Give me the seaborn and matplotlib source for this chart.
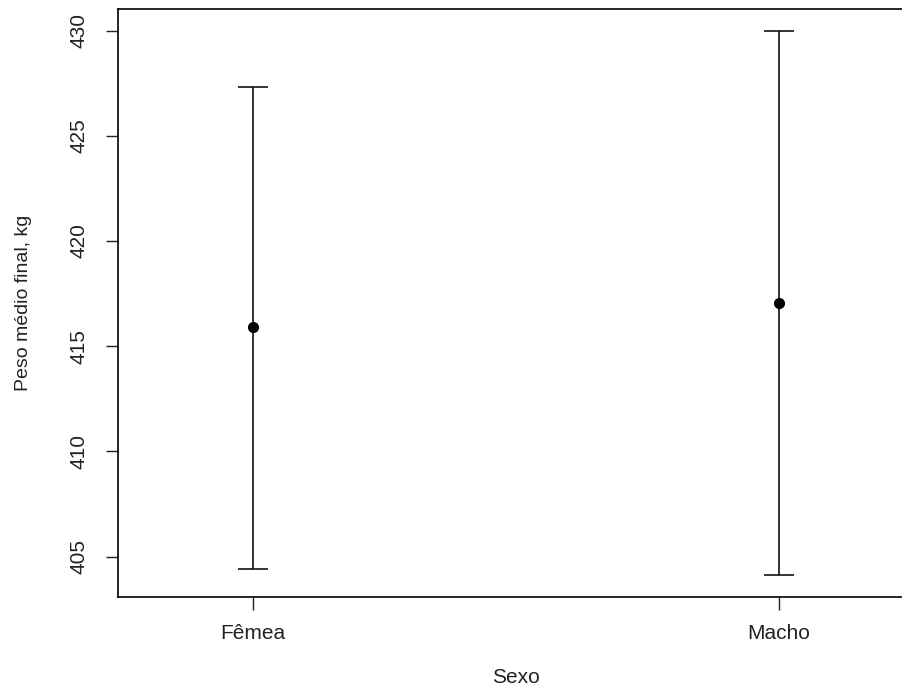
import matplotlib
matplotlib.use("Agg")
import matplotlib.pyplot as plt
import seaborn as sns
import pandas as pd

# mean final weight by sex, with interval limits (kg)
sexo = ["Fêmea", "Macho"]
media = [415.9, 417.06]
limite_inf = [404.42, 404.13]
limite_sup = [427.34, 430.0]

sns.set_theme(style="ticks")
plt.rcParams['font.family'] = ['Liberation Sans', 'DejaVu Sans']
plt.rcParams['font.size'] = 14

df = pd.DataFrame({"Sexo": sexo, "media": media,
                   "inf": limite_inf, "sup": limite_sup})

fig = plt.figure(figsize=(9.02, 6.89), dpi=100)
ax = fig.add_axes([0.1308, 0.134, 0.8825, 0.853])

sns.pointplot(data=df, x="Sexo", y="media", errorbar=None, linestyle="none",
              color="black", markers="o", markersize=6, ax=ax, zorder=3)

pos = range(len(sexo))
ax.errorbar(list(pos), df["media"],
            yerr=[df["media"] - df["inf"], df["sup"] - df["media"]],
            fmt="none", ecolor="#111111", elinewidth=1.2, capsize=10.5,
            capthick=1.2, zorder=2)

ax.set_xlim(-0.257, 1.257)
ax.set_ylim(403.1, 431.03)
ax.set_yticks([405, 410, 415, 420, 425, 430])

for s in ax.spines.values():
    s.set_visible(True)
    s.set_color("black")
    s.set_linewidth(1.2)

ax.tick_params(axis="both", direction="out", length=9, width=1.0,
               color="#222222", labelcolor="#222222")
ax.tick_params(axis="y", labelrotation=90, pad=12, labelsize=15)
ax.tick_params(axis="x", pad=11, labelsize=15)
for lab in ax.get_yticklabels():
    lab.set_va("center")

ax.set_xlabel("Sexo", fontsize=15, color="#222222")
ax.set_ylabel("Peso médio final, kg", fontsize=14, color="#222222")
ax.xaxis.set_label_coords(0.5, -0.137)
ax.xaxis.label.set_va("center")
ax.yaxis.set_label_coords(-0.119, 0.5)
ax.yaxis.label.set_va("center")

fig.savefig("out.png", dpi=100)
